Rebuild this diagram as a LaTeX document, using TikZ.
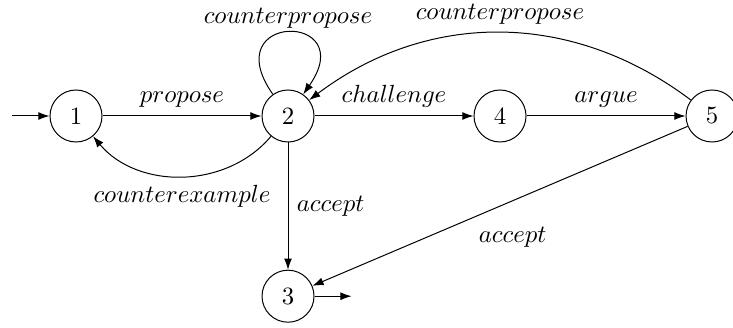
\documentclass[tikz,border=0pt]{standalone}
\usepackage{amsmath, amssymb}
\usepackage{tikz}
\usetikzlibrary{arrows.meta}
\tikzstyle{statenode} = [circle, draw=black, minimum size=0.736cm, inner sep=0pt]
\tikzstyle{arrow} = [-{Latex[length=4.5pt,width=3.2pt]}]
\begin{document}
\begin{tikzpicture}[node distance=3cm]
\useasboundingbox (-1.0755,-2.986) rectangle (9.297,1.6415);

\node (q1) [statenode] at (0,0) {1};
\node (q2) [statenode, right of=q1] {2};
\node (q4) [statenode, right of=q2] {4};
\node (q5) [statenode, right of=q4] {5};
\node (q3) [statenode, below of=q2, node distance=2.55cm] {3};
\coordinate [left of=q1, node distance=0.9cm] (init);
\coordinate [right of=q3, node distance=0.9cm] (fin);

\draw [arrow] (init) -- (q1);
\draw [arrow] (q3) -- (fin);
\draw [arrow] (q1) -- node[above] {$propose$} (q2);
\draw [arrow] (q2) to[bend left=50] node[below] {$counterexample$} (q1);
\draw [arrow] (q2) to[out=125, in=55, looseness=8.5] node[above, inner sep=1.5pt] {$counterpropose$} (q2);
\draw [arrow] (q2) -- node[above] {$challenge$} (q4);
\draw [arrow] (q4) -- node[above] {$argue$} (q5);
\draw [arrow] (q5) to[bend right=37] node[above] {$counterpropose$} (q2);
\draw [arrow] (q2) -- node[right] {$accept$} (q3);
\draw [arrow] (q5) -- node[below right, pos=0.58] {$accept$} (q3);

\end{tikzpicture}
\end{document}
